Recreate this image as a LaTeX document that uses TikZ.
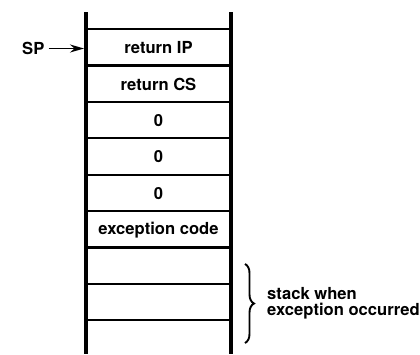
\documentclass[tikz,border=0pt]{standalone}
\usepackage{fontspec}
\setmainfont{TeX Gyre Heros}
\usetikzlibrary{arrows.meta,decorations.pathreplacing}
\begin{document}
\begin{tikzpicture}[x=1pt,y=-1pt,
  font=\fontsize{16.6}{16.5}\selectfont\bfseries,
  wall/.style={line width=3.6pt},
  sep/.style={line width=2.2pt},
  cell/.style={inner sep=0pt, anchor=center},
  ptr/.style={line width=1.8pt,-{Stealth[length=14pt,width=8pt]}}]
  \useasboundingbox (0,0) rectangle (420,354);
  % stack walls
  \draw[wall] (86,12) -- (86,354);
  \draw[wall] (231,12) -- (231,354);
  % cell separators
  \foreach \k in {0,...,8}
    \draw[sep] (86,29+36.4*\k) -- (231,29+36.4*\k);
  % cell contents
  \node[cell] (c0) at (158.5,47.8) {return IP};
  \node[cell] (c1) at (158.5,84.2) {return CS};
  \node[cell] (c2) at (158.5,120.6) {0};
  \node[cell] (c3) at (158.5,157.0) {0};
  \node[cell] (c4) at (158.5,193.4) {0};
  \node[cell] (c5) at (158.5,229.8) {exception code};
  % stack pointer
  \node[anchor=west, inner sep=0pt] (sp) at (22,48) {SP};
  \coordinate (spend) at (84,48.5);
  \draw[ptr] (sp.east) ++(4pt,0.5) -- (spend);
  % brace over the old stack
  \coordinate (btop) at (245,264);
  \coordinate (bbot) at (245,343);
  \draw[line width=1.9pt, decorate, decoration={brace, amplitude=9pt}] (btop) -- (bbot);
  \node[anchor=west, align=left, inner sep=0pt] (lbl) at (267,303.5)
    {stack when\\exception occurred};
\end{tikzpicture}
\end{document}
